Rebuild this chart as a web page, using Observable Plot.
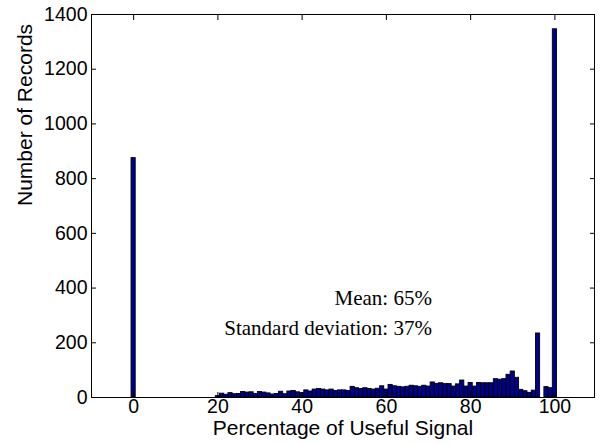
<!DOCTYPE html>
<html>
<head>
<meta charset="utf-8">
<script src="https://cdn.jsdelivr.net/npm/d3@7"></script>
<script src="https://cdn.jsdelivr.net/npm/@observablehq/plot@0.6"></script>
<style>
  html, body { margin: 0; padding: 0; background: #fff; }
  svg { display: block; }
</style>
</head>
<body>
<div id="chart"></div>
<script>
// Histogram bins (bin centre, % of useful signal) and counts
const percent = [0,
  20,21,22,23,24,25,26,27,28,29,
  30,31,32,33,34,35,36,37,38,39,
  40,41,42,43,44,45,46,47,48,49,
  50,51,52,53,54,55,56,57,58,59,
  60,61,62,63,64,65,66,67,68,69,
  70,71,72,73,74,75,76,77,78,79,
  80,81,82,83,84,85,86,87,88,89,
  90,91,92,93,94,95,96,97,98,99,
  100];
const records = [875,
  5,14,10,16,12,13,20,18,19,13,
  20,18,15,11,13,21,12,22,24,19,
  16,26,22,29,31,29,26,29,24,26,
  26,24,39,34,31,34,31,29,32,41,
  29,46,41,39,37,39,43,41,39,43,
  40,55,50,52,49,49,40,48,62,40,
  53,40,53,52,52,52,67,65,67,83,
  95,72,28,23,17,25,234,0,38,34,
  1346];

const xTicks = [0, 20, 40, 60, 80, 100];
const yTicks = [0, 200, 400, 600, 800, 1000, 1200, 1400];
const xLabel = "Percentage of Useful Signal";
const yLabel = "Number of Records";

const notes = [
  {x: 70.8, y: 362, text: "Mean: 65%"},
  {x: 70.8, y: 252, text: "Standard deviation: 37%"}
];

const bars = percent.map((p, i) => ({p, n: records[i]})).filter(d => d.n > 0);
const sans = "'Liberation Sans', Arial, Helvetica, sans-serif";

const chart = Plot.plot({
  width: 601,
  height: 444,
  marginLeft: 91,
  marginRight: 7,
  marginTop: 14,
  marginBottom: 47,
  style: {fontFamily: sans, fontSize: "19.5px", color: "black", background: "white"},
  x: {domain: [-10, 109.4]},
  y: {domain: [0, 1400]},
  marks: [
    Plot.rectY(bars, {x1: d => d.p - 0.495, x2: d => d.p + 0.495, y: "n", fill: "#00008f", stroke: "black", strokeWidth: 0.9}),
    Plot.text(notes, {x: "x", y: "y", text: "text", textAnchor: "end", fontFamily: "'Liberation Serif', 'Times New Roman', serif", fontSize: 21, fill: "black"}),
    Plot.axisX({anchor: "bottom", ticks: xTicks, tickSize: -5, tickPadding: 7, label: null, fontSize: 19.5}),
    Plot.axisX({anchor: "top", ticks: xTicks, tickSize: -5, tickFormat: () => "", label: null}),
    Plot.axisY({anchor: "left", ticks: yTicks, tickSize: -5, tickPadding: 9, tickFormat: d3.format("d"), label: null, fontSize: 19.5}),
    Plot.axisY({anchor: "right", ticks: yTicks, tickSize: -5, tickFormat: () => "", label: null}),
    Plot.text([xLabel], {frameAnchor: "bottom", lineAnchor: "middle", dy: 31, fontSize: 21, fontFamily: sans, fill: "black"}),
    Plot.text([yLabel], {frameAnchor: "left", lineAnchor: "middle", rotate: -90, dx: -66, fontSize: 21, fontFamily: sans, fill: "black"}),
    Plot.frame({stroke: "black", strokeWidth: 1})
  ]
});
document.getElementById("chart").appendChild(chart);
</script>
</body>
</html>
